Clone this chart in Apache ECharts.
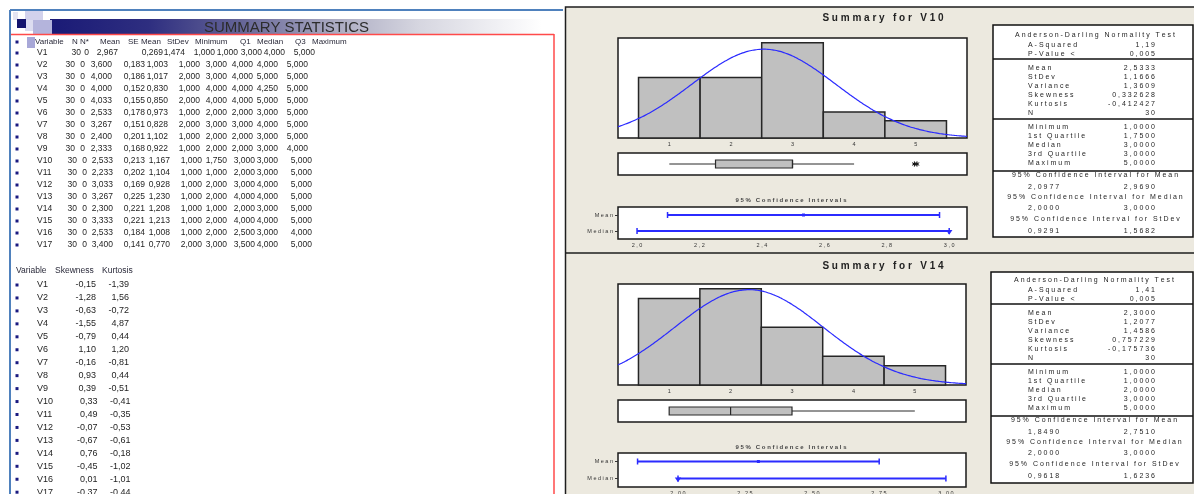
<!DOCTYPE html>
<html>
<head>
<meta charset="utf-8">
<title>Summary statistics</title>
<script src="https://cdn.jsdelivr.net/npm/echarts@6.0.0/dist/echarts.min.js"></script>
<style>
html, body { margin: 0; padding: 0; background: #fff; }
#chart { width: 1194px; height: 494px; }
</style>
</head>
<body>
<div id="chart"></div>
<script>
// ---------- descriptive statistics for V1..V17 ----------
const variables = ['V1','V2','V3','V4','V5','V6','V7','V8','V9','V10','V11','V12','V13','V14','V15','V16','V17'];
const statHeaders = ['Variable','N','N*','Mean','SE Mean','StDev','Minimum','Q1','Median','Q3','Maximum'];
const nObs = [30,30,30,30,30,30,30,30,30,30,30,30,30,30,30,30,30];
const nMissing = [0,0,0,0,0,0,0,0,0,0,0,0,0,0,0,0,0];
const meanVals = [2.967,3.600,4.000,4.000,4.033,2.533,3.267,2.400,2.333,2.533,2.233,3.033,3.267,2.300,3.333,2.533,3.400];
const seMeanVals = [0.269,0.183,0.186,0.152,0.155,0.178,0.151,0.201,0.168,0.213,0.202,0.169,0.225,0.221,0.221,0.184,0.141];
const stDevVals = [1.474,1.003,1.017,0.830,0.850,0.973,0.828,1.102,0.922,1.167,1.104,0.928,1.230,1.208,1.213,1.008,0.770];
const minVals = [1,1,2,1,2,1,2,1,1,1,1,1,1,1,1,1,2];
const q1Vals = [1,3,3,4,4,2,3,2,2,1.75,1,2,2,1,2,2,3];
const medianVals = [3,4,4,4,4,2,3,2,2,3,2,3,4,2,4,2.5,3.5];
const q3Vals = [4,4,5,4.25,5,3,4,3,3,3,3,4,4,3,4,3,4];
const maxVals = [5,5,5,5,5,5,5,5,4,5,5,5,5,5,5,4,5];
const shapeHeaders = ['Variable','Skewness','Kurtosis'];
const skewVals = [-0.15,-1.28,-0.63,-1.55,-0.79,1.10,-0.16,0.93,0.39,0.33,0.49,-0.07,-0.67,0.76,-0.45,0.01,-0.37];
const kurtVals = [-1.39,1.56,-0.72,4.87,0.44,1.20,-0.81,0.44,-0.51,-0.41,-0.35,-0.53,-0.61,-0.18,-1.02,-1.01,-0.44];

// ---------- graphical summaries ----------
const binCenters = [1, 2, 3, 4, 5];
const countsV10 = [7, 7, 11, 3, 2];
const countsV14 = [9, 10, 6, 3, 2];
const histTicks = [1, 2, 3, 4, 5];
// Mean, StDev, Variance, Skewness, Kurtosis, N
const momentsV10 = [2.5333, 1.1666, 1.3609, 0.332628, -0.412427, 30];
const momentsV14 = [2.3000, 1.2077, 1.4586, 0.757229, -0.175736, 30];
// Minimum, 1st Quartile, Median, 3rd Quartile, Maximum
const quantilesV10 = [1, 1.75, 3, 3, 5];
const quantilesV14 = [1, 1, 2, 3, 5];
const whiskersV10 = [1, 4];
const whiskersV14 = [1, 5];
const outliersV10 = [5, 5];
const adV10 = [1.19, 0.005];
const adV14 = [1.41, 0.005];
// lower, upper
const ciMeanV10 = [2.0977, 2.9690];
const ciMedianV10 = [2.0, 3.0];
const ciStDevV10 = [0.9291, 1.5682];
const ciMeanV14 = [1.8490, 2.7510];
const ciMedianV14 = [2.0, 3.0];
const ciStDevV14 = [0.9618, 1.6236];
const ciTicksV10 = [2.0, 2.2, 2.4, 2.6, 2.8, 3.0];
const ciTicksV14 = [2.0, 2.25, 2.5, 2.75, 3.0];
const ciRows = ['Median', 'Mean'];
const adLabels = ['A-Squared', 'P-Value <'];
const momentLabels = ['Mean', 'StDev', 'Variance', 'Skewness', 'Kurtosis', 'N'];
const momentDigits = [4, 4, 4, 6, 6, 0];
const quantileLabels = ['Minimum', '1st Quartile', 'Median', '3rd Quartile', 'Maximum'];
const ciTitles = ['95% Confidence Interval for Mean', '95% Confidence Interval for Median', '95% Confidence Interval for StDev'];

// ---------- helpers ----------
const comma = (v, d) => v.toFixed(d).replace('.', ',');
const spaced = s => s.split('').join(' ');
const SANS = '"Liberation Sans", Arial, sans-serif';
const BLUE = '#2b2bff';
const g = [];

function text(str, x, y, size, opt) {
  opt = opt || {};
  const align = opt.align || 'left';
  return {
    type: 'text', x: x, y: y, z: opt.z == null ? 10 : opt.z, silent: true,
    style: {
      text: str, fill: opt.color || '#1e1e1e',
      font: (opt.weight || 'normal') + ' ' + size + 'px ' + SANS,
      align: align, textAlign: align,
      verticalAlign: 'middle', textVerticalAlign: 'middle'
    }
  };
}
function line(x1, y1, x2, y2, color, w, z) {
  return { type: 'line', silent: true, z: z == null ? 5 : z,
    shape: { x1: x1, y1: y1, x2: x2, y2: y2 },
    style: { stroke: color, lineWidth: w } };
}
function rect(x, y, w, h, fill, z, stroke, lw) {
  return { type: 'rect', silent: true, z: z == null ? 0 : z,
    shape: { x: x, y: y, width: w, height: h },
    style: { fill: fill, stroke: stroke || null, lineWidth: lw || 0 } };
}

// ---------- left sheet ----------
g.push(line(10, 10, 563, 10, '#4f81bd', 2, 3));
g.push(line(10, 10, 10, 494, '#4f81bd', 2, 3));
g.push(rect(50, 19, 492, 15, new echarts.graphic.LinearGradient(0, 0, 1, 0, [
  { offset: 0, color: '#1a1a76' }, { offset: 0.2, color: '#2e2e80' },
  { offset: 0.38, color: '#626296' }, { offset: 0.58, color: '#ababc2' },
  { offset: 0.75, color: '#d6d6e0' }, { offset: 1, color: '#ffffff' }
]), 0));
g.push(rect(13, 12, 5, 8, '#e4e4f2', 1));
g.push(rect(25, 11, 18, 9, '#d2d2ec', 1));
g.push(rect(25, 20, 9, 11, '#dcdcf0', 1));
g.push(rect(33, 20, 19, 14, '#b4b4dc', 1));
g.push(rect(17, 19, 9, 9, '#14146e', 2));
g.push(rect(27, 37, 8, 11, '#a8a8d8', 1));
g.push(line(11, 34.5, 554, 34.5, '#ff4a4a', 1.5, 3));
g.push(line(554, 34, 554, 494, '#ff4a4a', 1.5, 3));
g.push(text('SUMMARY STATISTICS', 204, 28, 15, { color: '#2c2c2c', z: 4 }));

const headerX = [35, 72, 80, 100, 128, 167, 195, 240, 257, 295, 312];
statHeaders.forEach((h, i) => g.push(text(h, headerX[i], 42, 8, { color: '#2a2a3a' })));
g.push(rect(15.5, 40.5, 3, 3, '#1a1a80', 2));

const colRight = {
  first: [81, 89, 118, 163, 185, 215, 238, 262, 285, 315],
  mid:   [75, 85, 112, 145, 168, 200, 227, 253, 278, 308],
  late:  [77, 87, 113, 145, 170, 202, 227, 255, 278, 312]
};
variables.forEach((v, i) => {
  const y = 53 + 12 * i;
  const cols = i === 0 ? colRight.first : (i < 9 ? colRight.mid : colRight.late);
  const cells = [String(nObs[i]), String(nMissing[i]), comma(meanVals[i], 3), comma(seMeanVals[i], 3),
    comma(stDevVals[i], 3), comma(minVals[i], 3), comma(q1Vals[i], 3), comma(medianVals[i], 3),
    comma(q3Vals[i], 3), comma(maxVals[i], 3)];
  g.push(rect(15.5, y - 1.5, 3, 3, '#1a1a80', 2));
  g.push(text(v, 37, y, 8.5));
  cells.forEach((c, k) => g.push(text(c, cols[k], y, 8.5, { align: 'right' })));
});

const shapeHeaderX = [16, 55, 102];
shapeHeaders.forEach((h, i) => g.push(text(h, shapeHeaderX[i], 271, 8.5, { color: '#2a2a3a' })));
variables.forEach((v, i) => {
  const y = 285 + 12.95 * i;
  const sh = i >= 9 ? 1.5 : 0;
  g.push(rect(15.5, y - 1.5, 3, 3, '#1a1a80', 2));
  g.push(text(v, 37, y, 9));
  g.push(text(comma(skewVals[i], 2), 96 + sh, y, 9, { align: 'right' }));
  g.push(text(comma(kurtVals[i], 2), 129 + sh, y, 9, { align: 'right' }));
});

// ---------- right sheet: frame ----------
g.push(rect(565.5, 7, 640, 490, '#ece9df', -10, '#1e1e1e', 1.5));
g.push(line(565, 253, 1194, 253, '#1e1e1e', 1.5, 5));

function titleAndCaption(name, titleY, captionY) {
  g.push(text(spaced('Summary for ' + name), 883, titleY, 10, { weight: 'bold', color: '#222', align: 'center' }));
  g.push(text(spaced('95% Confidence Intervals'), 791, captionY, 6, { weight: 'bold', color: '#444', align: 'center' }));
}
titleAndCaption('V10', 18, 200);
titleAndCaption('V14', 266, 447);

function statsBox(x0, top, bottom, dy, ad, moments, quantiles, ciList) {
  const x1 = 1193, F = 7, LX = 1028, RX = 1155;
  const cx = (x0 + x1) / 2 + 2;
  const t = (s, x, y, al) => g.push(text(spaced(s), x, y + dy, F, { align: al || 'left', z: 12 }));
  g.push(rect(x0, top, x1 - x0, bottom - top, '#fff', 1, '#111', 1.5));
  [59, 119, 171].forEach(y => g.push(line(x0, y + dy, x1, y + dy, '#111', 1.5, 6)));
  t('Anderson-Darling Normality Test', cx, 35, 'center');
  const adY = [45, 54];
  adLabels.forEach((l, i) => { t(l, LX, adY[i]); t(comma(ad[i], i === 0 ? 2 : 3), RX, adY[i], 'right'); });
  const mY = [68, 77, 86, 95, 104, 113];
  momentLabels.forEach((l, i) => { t(l, LX, mY[i]); t(comma(moments[i], momentDigits[i]), RX, mY[i], 'right'); });
  const qY = [127, 136, 145, 154, 163];
  quantileLabels.forEach((l, i) => { t(l, LX, qY[i]); t(comma(quantiles[i], 4), RX, qY[i], 'right'); });
  const ctY = [175, 197, 219], cvY = [187, 208, 231];
  ciTitles.forEach((l, i) => {
    t(l, cx, ctY[i], 'center');
    t(comma(ciList[i][0], 4), LX, cvY[i]);
    t(comma(ciList[i][1], 4), RX, cvY[i], 'right');
  });
}
statsBox(993, 25, 237, 0, adV10, momentsV10, quantilesV10, [ciMeanV10, ciMedianV10, ciStDevV10]);
statsBox(991, 272, 483, 245, adV14, momentsV14, quantilesV14, [ciMeanV14, ciMedianV14, ciStDevV14]);

// ---------- plot pieces ----------
const HIST_MIN = 1 / 6, HIST_MAX = 35 / 6;

function fittedNormal(mu, sd, n) {
  const pts = [];
  const step = (HIST_MAX - HIST_MIN) / 140;
  for (let k = 0; k <= 140; k++) {
    const x = HIST_MIN + k * step;
    const z = (x - mu) / sd;
    pts.push([x, n * Math.exp(-0.5 * z * z) / (sd * Math.sqrt(2 * Math.PI))]);
  }
  return pts;
}

function histRender(params, api) {
  const x = api.value(0), c = api.value(1);
  const p0 = api.coord([x - 0.5, c]), p1 = api.coord([x + 0.5, 0]);
  return { type: 'rect', shape: { x: p0[0], y: p0[1], width: p1[0] - p0[0], height: p1[1] - p0[1] },
    style: { fill: '#c0c0c0', stroke: '#262626', lineWidth: 1.5 } };
}

function boxRender(params, api) {
  const pt = v => api.coord([v, 0.5]);
  const y = pt(0)[1], h = 4;
  const lo = pt(api.value(0))[0], q1 = pt(api.value(1))[0], md = pt(api.value(2))[0],
        q3 = pt(api.value(3))[0], hi = pt(api.value(4))[0];
  const st = { stroke: '#2a2a2a', lineWidth: 1 };
  return { type: 'group', children: [
    { type: 'line', shape: { x1: lo, y1: y, x2: q1, y2: y }, style: st },
    { type: 'line', shape: { x1: q3, y1: y, x2: hi, y2: y }, style: st },
    { type: 'rect', shape: { x: q1, y: y - h, width: q3 - q1, height: 2 * h },
      style: { fill: '#c0c0c0', stroke: '#2a2a2a', lineWidth: 1.2 } },
    { type: 'line', shape: { x1: md, y1: y - h, x2: md, y2: y + h }, style: { stroke: '#2a2a2a', lineWidth: 1.2 } }
  ] };
}

function starRender(params, api) {
  const p = api.coord([api.value(0), 0.5]);
  const cx = p[0] + (params.dataIndex % 2 === 0 ? -1.3 : 1.3), cy = p[1], r = 2.6;
  const st = { stroke: '#111', lineWidth: 1 };
  return { type: 'group', children: [
    { type: 'line', shape: { x1: cx, y1: cy - r, x2: cx, y2: cy + r }, style: st },
    { type: 'line', shape: { x1: cx - r * 0.87, y1: cy - r * 0.5, x2: cx + r * 0.87, y2: cy + r * 0.5 }, style: st },
    { type: 'line', shape: { x1: cx - r * 0.87, y1: cy + r * 0.5, x2: cx + r * 0.87, y2: cy - r * 0.5 }, style: st }
  ] };
}

function ciRender(params, api) {
  const row = api.value(3);
  const a = api.coord([api.value(0), row]), e = api.coord([api.value(1), row]), b = api.coord([api.value(2), row]);
  const y = a[1];
  const kids = [
    { type: 'line', shape: { x1: a[0], y1: y, x2: b[0], y2: y }, style: { stroke: BLUE, lineWidth: 1.8 } },
    { type: 'line', shape: { x1: a[0], y1: y - 3, x2: a[0], y2: y + 3 }, style: { stroke: BLUE, lineWidth: 1.5 } },
    { type: 'line', shape: { x1: b[0], y1: y - 3, x2: b[0], y2: y + 3 }, style: { stroke: BLUE, lineWidth: 1.5 } }
  ];
  if (api.value(4) === 0) {
    kids.push({ type: 'rect', shape: { x: e[0] - 1.5, y: y - 1.5, width: 3, height: 3 }, style: { fill: BLUE } });
  } else {
    kids.push({ type: 'polygon', shape: { points: [[e[0] - 3.2, y - 1], [e[0] + 3.2, y - 1], [e[0], y + 3.8]] }, style: { fill: BLUE } });
  }
  return { type: 'group', children: kids };
}

const frame = { show: true, backgroundColor: '#fff', borderColor: '#1a1a1a', borderWidth: 1.5, outerBoundsMode: 'none', containLabel: false };
const grids = [
  { left: 618, top: 38, width: 349, height: 100 },
  { left: 618, top: 153, width: 349, height: 22 },
  { left: 618, top: 207, width: 349, height: 32 },
  { left: 618, top: 284, width: 348, height: 101 },
  { left: 618, top: 400, width: 348, height: 22 },
  { left: 618, top: 453, width: 348, height: 34 }
].map(o => Object.assign({}, frame, o));

const tinyLabel = { fontSize: 5.5, color: '#333', fontFamily: SANS };
const hidden = { show: false };
function valueX(idx, min, max, ticks, digits) {
  return {
    gridIndex: idx, type: 'value', min: min, max: max,
    axisLine: hidden, axisTick: hidden, splitLine: hidden,
    axisLabel: ticks ? Object.assign({ show: true, margin: 3, customValues: ticks,
      formatter: v => spaced(digits ? comma(v, digits) : String(v)) }, tinyLabel) : hidden
  };
}
function hiddenY(idx, max) {
  return { gridIndex: idx, type: 'value', min: 0, max: max, show: false, splitLine: hidden };
}
function ciY(idx) {
  return { gridIndex: idx, type: 'category', data: ciRows,
    axisLine: hidden, splitLine: hidden,
    axisTick: { show: true, alignWithLabel: true, length: 3, lineStyle: { color: '#333', width: 1 } },
    axisLabel: Object.assign({ margin: 5, formatter: v => spaced(v) }, tinyLabel) };
}

const histMaxV10 = 11.55, histMaxV14 = 10.5;

const option = {
  animation: false,
  backgroundColor: '#ffffff',
  graphic: { elements: g },
  grid: grids,
  xAxis: [
    valueX(0, HIST_MIN, HIST_MAX, histTicks, 0),
    valueX(1, HIST_MIN, HIST_MAX, null),
    valueX(2, 1.939, 3.057, ciTicksV10, 1),
    valueX(3, HIST_MIN, HIST_MAX, histTicks, 0),
    valueX(4, HIST_MIN, HIST_MAX, null),
    valueX(5, 1.776, 3.075, ciTicksV14, 2)
  ],
  yAxis: [
    hiddenY(0, histMaxV10), hiddenY(1, 1), ciY(2),
    hiddenY(3, histMaxV14), hiddenY(4, 1), ciY(5)
  ],
  series: [
    { type: 'custom', xAxisIndex: 0, yAxisIndex: 0, renderItem: histRender, silent: true,
      data: binCenters.map((b, i) => [b, countsV10[i]]) },
    { type: 'line', xAxisIndex: 0, yAxisIndex: 0, data: fittedNormal(momentsV10[0], momentsV10[1], momentsV10[5]),
      showSymbol: false, smooth: true, clip: true, silent: true, z: 5, lineStyle: { color: BLUE, width: 1.2 } },
    { type: 'custom', xAxisIndex: 1, yAxisIndex: 1, renderItem: boxRender, silent: true,
      data: [[whiskersV10[0], quantilesV10[1], quantilesV10[2], quantilesV10[3], whiskersV10[1]]] },
    { type: 'custom', xAxisIndex: 1, yAxisIndex: 1, renderItem: starRender, silent: true,
      data: outliersV10.map(v => [v, 0.5]) },
    { type: 'custom', xAxisIndex: 2, yAxisIndex: 2, renderItem: ciRender, silent: true, encode: { x: [0, 1, 2], y: 3 },
      data: [[ciMeanV10[0], momentsV10[0], ciMeanV10[1], 1, 0], [ciMedianV10[0], quantilesV10[2], ciMedianV10[1], 0, 1]] },

    { type: 'custom', xAxisIndex: 3, yAxisIndex: 3, renderItem: histRender, silent: true,
      data: binCenters.map((b, i) => [b, countsV14[i]]) },
    { type: 'line', xAxisIndex: 3, yAxisIndex: 3, data: fittedNormal(momentsV14[0], momentsV14[1], momentsV14[5]),
      showSymbol: false, smooth: true, clip: true, silent: true, z: 5, lineStyle: { color: BLUE, width: 1.2 } },
    { type: 'custom', xAxisIndex: 4, yAxisIndex: 4, renderItem: boxRender, silent: true,
      data: [[whiskersV14[0], quantilesV14[1], quantilesV14[2], quantilesV14[3], whiskersV14[1]]] },
    { type: 'custom', xAxisIndex: 5, yAxisIndex: 5, renderItem: ciRender, silent: true, encode: { x: [0, 1, 2], y: 3 },
      data: [[ciMeanV14[0], momentsV14[0], ciMeanV14[1], 1, 0], [ciMedianV14[0], quantilesV14[2], ciMedianV14[1], 0, 1]] }
  ]
};

const chart = echarts.init(document.getElementById('chart'), null, { renderer: 'canvas' });
chart.setOption(option);
</script>
</body>
</html>
